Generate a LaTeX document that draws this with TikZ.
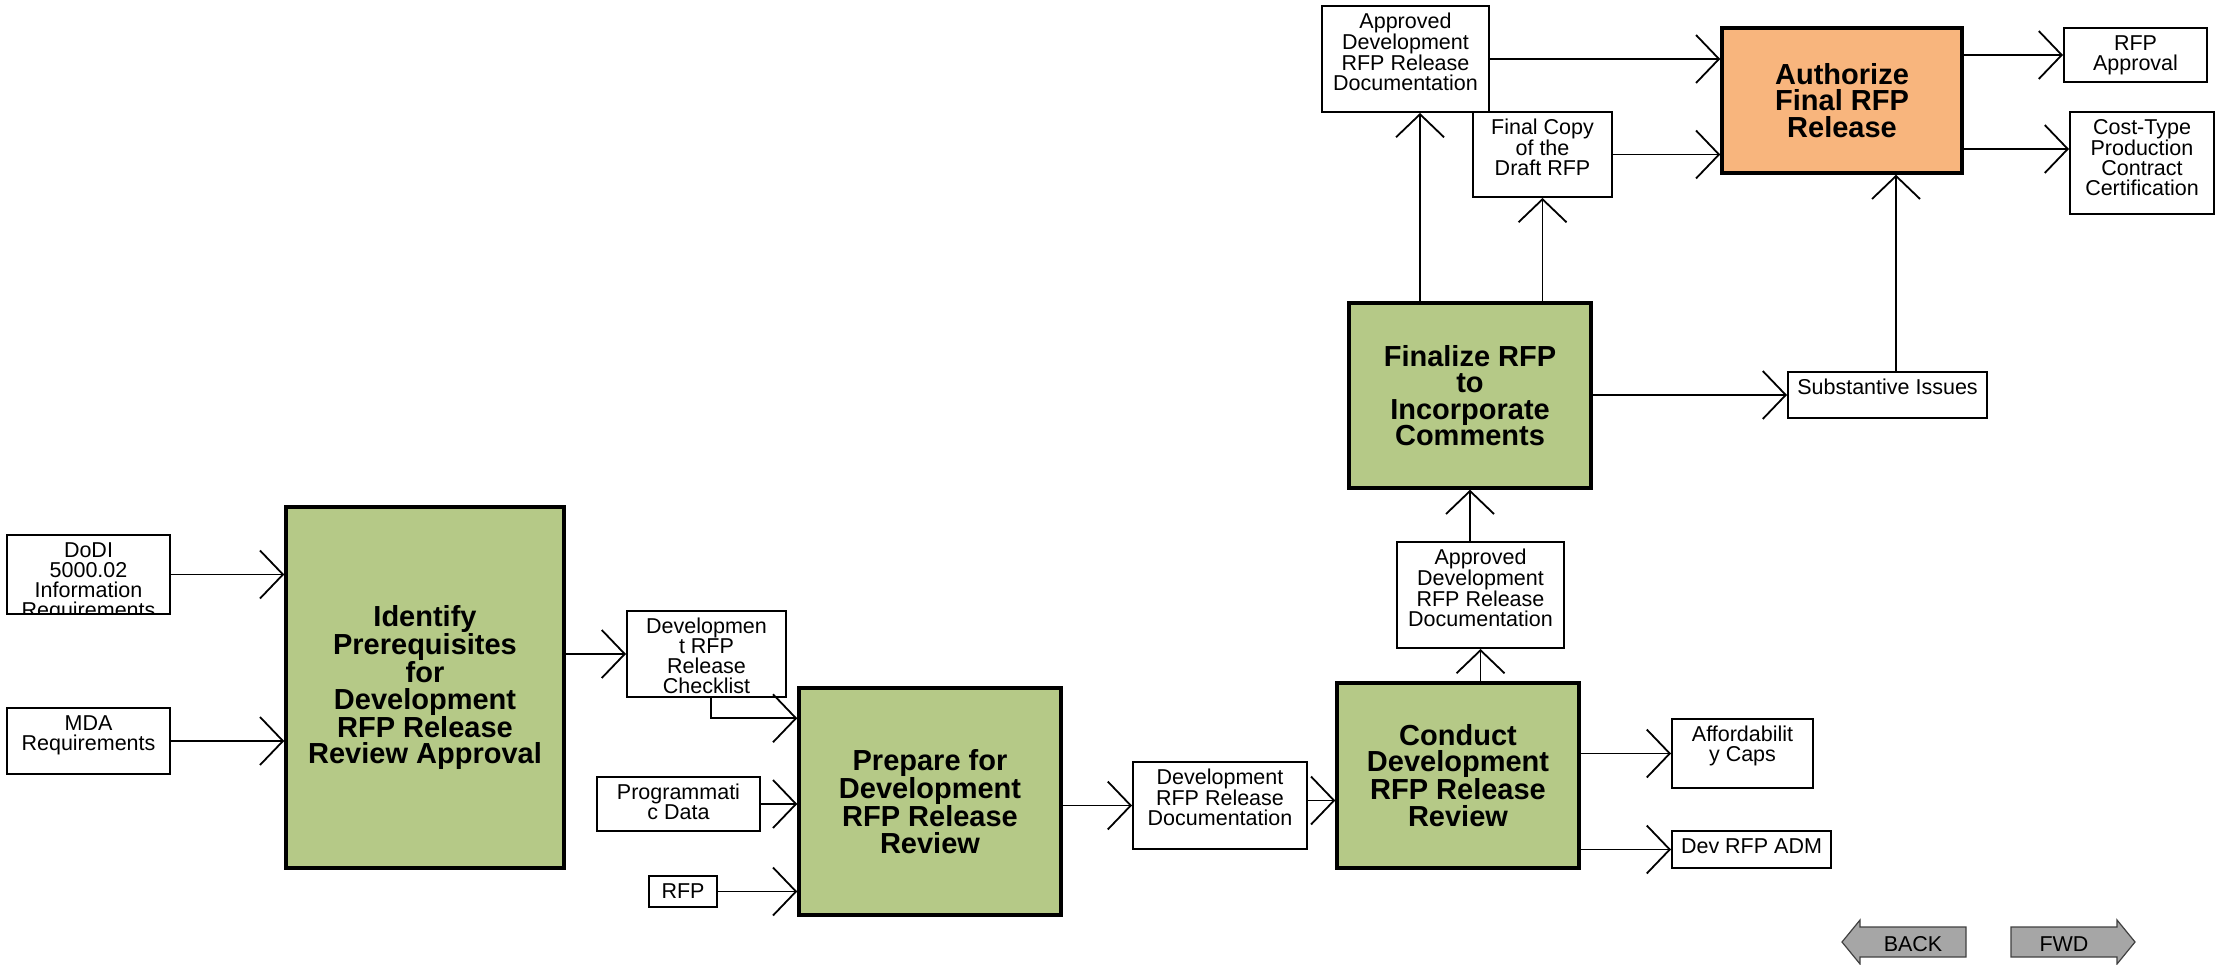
\documentclass[tikz,border=0pt]{standalone}
\usepackage{fontspec}
\setmainfont{Liberation Sans}
\usepackage{xcolor}
\usepackage{tikz}
\usetikzlibrary{arrows.meta,calc}
\definecolor{ActivityGreen}{RGB}{181,201,135}
\definecolor{ReleaseOrange}{RGB}{248,181,125}
\definecolor{ButtonGray}{RGB}{166,166,166}
\newcommand{\boxtext}[3]{\parbox[c][#2][t]{#1}{\centering\rule{0pt}{22.5pt}#3}}

\begin{document}
\begin{tikzpicture}[x=1pt,y=-1pt,
  inbox/.style={draw,line width=2pt,fill=white,inner sep=0pt,font=\fontsize{21.5}{20}\selectfont},
  activity/.style={draw,line width=3.5pt,fill=ActivityGreen,inner sep=0pt,align=center,font=\fontsize{29}{26.5}\selectfont\bfseries},
  flow/.style={line width=1.8pt,-{Straight Barb[length=23pt,width=48pt]}},
  navbtn/.style={draw=black!75,line width=1.2pt,fill=ButtonGray}]
  \useasboundingbox (0,0) rectangle (2219,965);

  % inputs and first activity
  \node[inbox,minimum width=163pt,minimum height=79pt,
    path picture={\node[inner sep=0pt,draw=none,fill=none,font=\fontsize{21.5}{20}\selectfont]
      at (path picture bounding box.center) {\boxtext{163pt}{79pt}{DoDI\\5000.02\\Information\\Requirements}};}]
    (dodi) at (88.5,574.5) {};
  \node[inbox] (mda) at (88.5,741) {\boxtext{163pt}{66pt}{MDA\\Requirements}};
  \node[activity,minimum width=278pt,minimum height=361pt] (identify) at (425,687.5)
    {Identify\\Prerequisites\\for\\Development\\RFP Release\\Review Approval};
  \node[inbox] (check) at (706.5,654) {\boxtext{159pt}{86pt}{Developmen\\t RFP\\Release\\Checklist}};

  % prepare
  \node[inbox] (prog) at (678.5,804) {\boxtext{163pt}{54pt}{Programmati\\c Data}};
  \node[inbox] (rfp) at (683,891.5) {\boxtext{68pt}{31pt}{RFP}};
  \node[activity,minimum width=262pt,minimum height=227pt] (prepare) at (930,801.5)
    {Prepare for\\Development\\RFP Release\\Review};
  \node[inbox] (devdoc) at (1220,805.5) {\boxtext{174pt}{87pt}{Development\\RFP Release\\Documentation}};

  % conduct
  \node[activity,minimum width=242pt,minimum height=185pt] (conduct) at (1458,775.5)
    {Conduct\\Development\\RFP Release\\Review};
  \node[inbox] (afford) at (1742.5,753.5) {\boxtext{141pt}{69pt}{Affordabilit\\y Caps}};
  \node[inbox] (devadm) at (1751.5,849.5) {\boxtext{159pt}{37pt}{Dev RFP ADM}};
  \node[inbox] (appr1) at (1480.5,595) {\boxtext{167pt}{106pt}{Approved\\Development\\RFP Release\\Documentation}};

  % finalize
  \node[activity,minimum width=242pt,minimum height=185pt] (finalize) at (1470,395.5)
    {Finalize RFP\\to\\Incorporate\\Comments};
  \node[inbox] (subst) at (1887.5,395) {\boxtext{199pt}{46pt}{Substantive Issues}};
  \node[inbox] (appr2) at (1405.5,59) {\boxtext{167pt}{106pt}{Approved\\Development\\RFP Release\\Documentation}};
  \node[inbox] (fcopy) at (1542.5,154.5) {\boxtext{139pt}{85pt}{Final Copy\\of the\\Draft RFP}};

  % authorize
  \node[activity,fill=ReleaseOrange,minimum width=240pt,minimum height=145pt] (authorize) at (1842,100.5)
    {Authorize\\Final RFP\\Release};
  \node[inbox] (rfpappr) at (2135.5,55) {\boxtext{143pt}{54pt}{RFP\\Approval}};
  \node[inbox] (cost) at (2142,163) {\boxtext{144pt}{102pt}{Cost-Type\\Production\\Contract\\Certification}};

  % connector ends that sit off the anchors
  \coordinate (checkout) at ([xshift=4.5pt]check.south);
  \coordinate (prepin) at ([yshift=-32pt]prepare.north west);
  \coordinate (condin) at ([yshift=5pt]devdoc.east);
  \coordinate (substout) at ([xshift=8.5pt]subst.north);
  \coordinate (appr2in) at ([xshift=14.5pt]appr2.south);
  \coordinate (costin) at ([yshift=14pt]cost.west);

  % connectors
  \draw[flow] (dodi.east) -- (dodi.east -| identify.west);
  \draw[flow] (mda.east) -- (mda.east -| identify.west);
  \draw[flow] (identify.east |- check.west) -- (check.west);
  \draw[flow] (checkout) |- (prepin);
  \draw[flow] (prog.east) -- (prog.east -| prepare.west);
  \draw[flow] (rfp.east) -- (rfp.east -| prepare.west);
  \draw[flow] (prepare.east |- devdoc.west) -- (devdoc.west);
  \draw[flow] (condin) -- (condin -| conduct.west);
  \draw[flow] (conduct.east |- afford.west) -- (afford.west);
  \draw[flow] (conduct.east |- devadm.west) -- (devadm.west);
  \draw[flow] (conduct.north -| appr1.south) -- (appr1.south);
  \draw[flow] (appr1.north -| finalize.south) -- (finalize.south);
  \draw[flow] (finalize.east |- subst.west) -- (subst.west);
  \draw[flow] (substout) -- (substout |- authorize.south);
  \draw[flow] (appr2in |- finalize.north) -- (appr2in);
  \draw[flow] (finalize.north -| fcopy.south) -- (fcopy.south);
  \draw[flow] (appr2.east) -- (appr2.east -| authorize.west);
  \draw[flow] (fcopy.east) -- (fcopy.east -| authorize.west);
  \draw[flow] (authorize.east |- rfpappr.west) -- (rfpappr.west);
  \draw[flow] (authorize.east |- costin) -- (costin);

  % navigation buttons
  \filldraw[navbtn] (1842,942) -- (1860,920) -- (1860,927) -- (1966,927) -- (1966,957) -- (1860,957) -- (1860,964) -- cycle;
  \node[font=\fontsize{21.5}{20}\selectfont] (back) at (1913,944) {BACK};
  \filldraw[navbtn] (2135,942) -- (2117,920) -- (2117,927) -- (2011,927) -- (2011,957) -- (2117,957) -- (2117,964) -- cycle;
  \node[font=\fontsize{21.5}{20}\selectfont] (fwd) at (2064,944) {FWD};
\end{tikzpicture}
\end{document}
